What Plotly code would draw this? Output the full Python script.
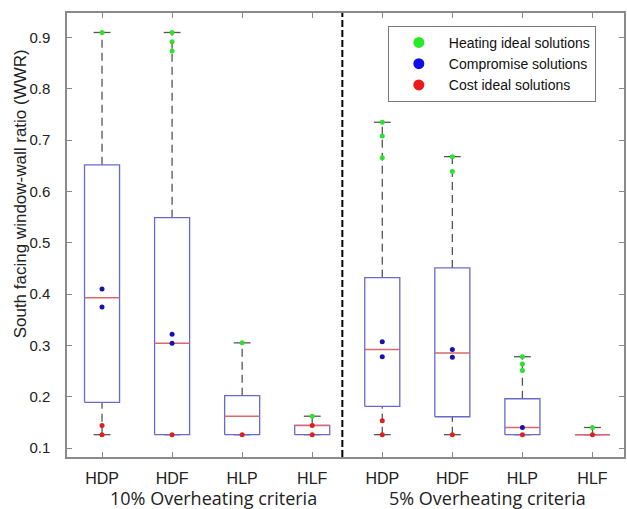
import plotly.graph_objects as go

# ---------------- data ----------------
categories = ["HDP", "HDF", "HLP", "HLF", "HDP", "HDF", "HLP", "HLF"]
groups = ["10% Overheating criteria", "5% Overheating criteria"]

q1 = [0.189, 0.126, 0.126, 0.126, 0.181, 0.161, 0.126, 0.126]
median = [0.393, 0.304, 0.162, 0.144, 0.292, 0.285, 0.140, 0.126]
q3 = [0.652, 0.549, 0.202, 0.144, 0.432, 0.451, 0.196, 0.126]
lower_whisker = [0.126, 0.126, 0.126, 0.126, 0.126, 0.126, 0.126, 0.126]
upper_whisker = [0.910, 0.910, 0.305, 0.162, 0.735, 0.668, 0.278, 0.140]

heating_ideal = [[0.910], [0.910, 0.892, 0.874], [0.305], [0.162],
                 [0.735, 0.708, 0.666], [0.668, 0.639], [0.278, 0.264, 0.251], [0.140]]
compromise = [[0.410, 0.375], [0.322, 0.304], [], [],
              [0.307, 0.278], [0.292, 0.277], [0.140], []]
cost_ideal = [[0.144, 0.126], [0.126], [0.126], [0.144, 0.126],
              [0.153, 0.126], [0.126], [0.126], [0.126]]

separator_x = 4.43
y_ticks = [0.1, 0.2, 0.3, 0.4, 0.5, 0.6, 0.7, 0.8, 0.9]

# ---------------- style ----------------
BOX_HALF = 0.25
CAP_HALF = 0.12
BOX_COLOR = "rgb(105,105,205)"
MED_COLOR = "rgb(215,105,105)"
WHISK_COLOR = "rgb(85,85,85)"
GREEN = "rgb(45,225,45)"
BLUE = "rgb(20,20,170)"
RED = "rgb(225,30,30)"
FONT = "Liberation Sans, Arial, sans-serif"

positions = list(range(1, len(categories) + 1))

fig = go.Figure()

# whiskers (dashed)
wx, wy = [], []
for p, a, b, lo, hi in zip(positions, q1, q3, lower_whisker, upper_whisker):
    if hi > b:
        wx += [p, p, None]; wy += [b, hi, None]
    if lo < a:
        wx += [p, p, None]; wy += [lo, a, None]
fig.add_trace(go.Scatter(x=wx, y=wy, mode="lines", showlegend=False, hoverinfo="skip",
                         line=dict(color=WHISK_COLOR, width=1.3, dash="8px,5px")))

# caps
cx, cy = [], []
for p, lo, hi in zip(positions, lower_whisker, upper_whisker):
    for v in (lo, hi):
        cx += [p - CAP_HALF, p + CAP_HALF, None]; cy += [v, v, None]
fig.add_trace(go.Scatter(x=cx, y=cy, mode="lines", showlegend=False, hoverinfo="skip",
                         line=dict(color=WHISK_COLOR, width=1.3)))

# boxes
bx, by = [], []
for p, a, b in zip(positions, q1, q3):
    bx += [p - BOX_HALF, p + BOX_HALF, p + BOX_HALF, p - BOX_HALF, p - BOX_HALF, None]
    by += [a, a, b, b, a, None]
fig.add_trace(go.Scatter(x=bx, y=by, mode="lines", showlegend=False, hoverinfo="skip",
                         line=dict(color=BOX_COLOR, width=1.3)))

# medians
mx, my = [], []
for p, m in zip(positions, median):
    mx += [p - BOX_HALF, p + BOX_HALF, None]; my += [m, m, None]
fig.add_trace(go.Scatter(x=mx, y=my, mode="lines", showlegend=False, hoverinfo="skip",
                         line=dict(color=MED_COLOR, width=1.5)))


def points(lists):
    xs, ys = [], []
    for p, vals in zip(positions, lists):
        for v in vals:
            xs.append(p); ys.append(v)
    return xs, ys


for name, lists, col, leg_col in [
    ("Heating ideal solutions", heating_ideal, GREEN, "rgb(40,235,40)"),
    ("Compromise solutions", compromise, BLUE, "rgb(15,15,230)"),
    ("Cost ideal solutions", cost_ideal, RED, "rgb(235,25,25)"),
]:
    xs, ys = points(lists)
    fig.add_trace(go.Scatter(x=xs, y=ys, mode="markers", showlegend=False,
                             marker=dict(color=col, size=5)))
    fig.add_trace(go.Scatter(x=[None], y=[None], mode="markers", name=name,
                             marker=dict(color=leg_col, size=11)))

# separator
fig.add_shape(type="line", x0=separator_x, x1=separator_x, y0=0, y1=1,
              xref="x", yref="paper", line=dict(color="black", width=2, dash="7px,3px"))

# group labels
for gx, txt in zip([2.59, 6.5], groups):
    fig.add_annotation(x=gx, y=0, xref="x", yref="paper", yshift=-41,
                       text=txt, showarrow=False, yanchor="middle",
                       font=dict(family="Open Sans, Noto Sans, sans-serif", size=18, color="#222"))

# y title
fig.add_annotation(x=-0.084, y=0.592, xref="paper", yref="paper", textangle=-90,
                   text="South facing window-wall ratio (WWR)", showarrow=False,
                   xanchor="center", yanchor="middle",
                   font=dict(family=FONT, size=17, color="#222"))

fig.update_layout(
    width=627, height=509,
    margin=dict(l=67, r=1, t=13, b=52),
    plot_bgcolor="white", paper_bgcolor="white",
    font=dict(family=FONT, color="#262626"),
    legend=dict(x=0.576, y=0.971, xanchor="left", yanchor="top",
                bgcolor="white", bordercolor="#7a7a7a", borderwidth=1,
                font=dict(family=FONT, size=14, color="#111"),
                itemwidth=50),
    xaxis=dict(range=[0.5, 8.45], tickmode="array", tickvals=positions, ticktext=categories,
               ticks="inside", ticklen=5, tickcolor="#888", showgrid=False, zeroline=False,
               showline=True, linecolor="#8a8a8a", linewidth=1.5, mirror="ticks",
               tickfont=dict(size=16, color="#222"), ticklabelstandoff=6),
    yaxis=dict(range=[0.0825, 0.948], tickmode="array", tickvals=y_ticks,
               ticktext=[f"{v:.1f}" for v in y_ticks],
               ticks="inside", ticklen=5, tickcolor="#888", showgrid=False, zeroline=False,
               showline=True, linecolor="#8a8a8a", linewidth=1.5, mirror="ticks",
               tickfont=dict(size=15, color="#222"), ticklabelstandoff=12),
)

fig.write_html("out.html")
